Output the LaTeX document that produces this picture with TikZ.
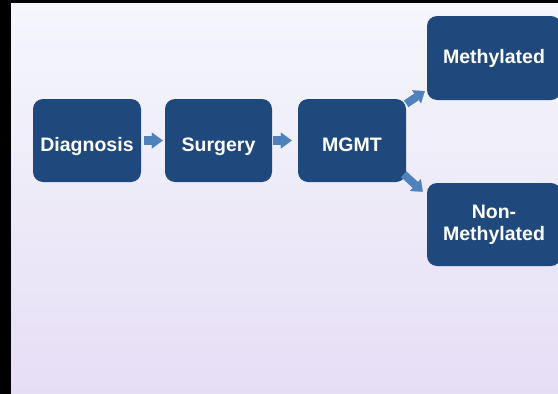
\documentclass[tikz,border=0pt]{standalone}
\usepackage{fontspec}
\setmainfont{Liberation Sans}
\usetikzlibrary{arrows.meta,calc}
\definecolor{boxblue}{RGB}{31,73,125}
\definecolor{arrowblue}{RGB}{79,129,189}
\definecolor{bgtop}{RGB}{245,247,252}
\definecolor{bgbot}{RGB}{230,222,245}
\tikzset{
  stepbox/.style={fill=boxblue, draw=none, rounded corners=10pt, inner sep=0pt,
    text=white, font=\fontsize{19.5}{22}\selectfont\bfseries, align=center,
    minimum height=83pt},
  rowbox/.style={stepbox, text height=22pt, text depth=0pt},
  blockarrow/.style={draw=arrowblue, line width=9pt,
    -{Triangle[length=11pt,width=16pt,line width=0.1pt]}},
  diagarrow/.style={draw=arrowblue, line width=8pt,
    -{Triangle[length=10pt,width=16pt,line width=0.1pt]}}
}
\begin{document}
\begin{tikzpicture}[x=1pt,y=-1pt]
\useasboundingbox (0,0) rectangle (558,394);
\fill[black] (0,0) rectangle (558,394);
\shade[top color=bgtop, bottom color=bgbot] (11,3) rectangle (558,394);
\node[rowbox, minimum width=108pt] (diag) at (87,140.5) {Diagnosis};
\node[rowbox, minimum width=107pt] (surg) at (218.5,140.5) {Surgery};
\node[rowbox, minimum width=108pt] (mgmt) at (352,140.5) {MGMT};
\node[stepbox, minimum width=134pt, minimum height=84pt] (meth) at (494,58) {Methylated};
\node[stepbox, minimum width=134pt] (non) at (494,224.5) {Non-\\Methylated};
\draw[blockarrow, shorten <=3pt, shorten >=2pt] (diag) -- (surg);
\draw[blockarrow, shorten <=1pt, shorten >=6pt] (surg) -- (mgmt);
\draw[diagarrow] ($(mgmt.north east)+(0,5)$) -- ($(meth.south west)+(-2,-9)$);
\draw[diagarrow] ($(mgmt.south east)+(-2.5,-8)$) -- ($(non.north west)+(-4,9)$);
\end{tikzpicture}
\end{document}
